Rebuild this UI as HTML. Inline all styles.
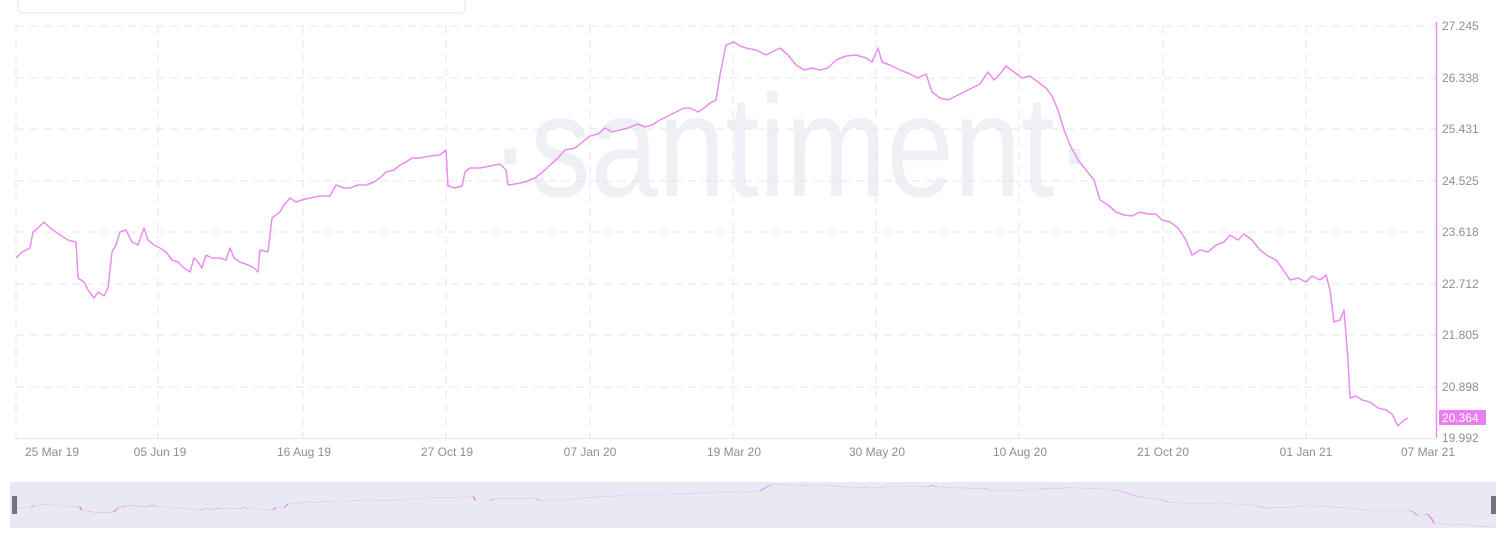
<!DOCTYPE html>
<html><head><meta charset="utf-8"><style>
html,body{margin:0;padding:0;background:#fff;width:1504px;height:542px;overflow:hidden;font-family:"Liberation Sans",sans-serif;}
</style></head><body>
<svg width="1504" height="542" viewBox="0 0 1504 542" xmlns="http://www.w3.org/2000/svg" font-family="Liberation Sans, sans-serif">
<rect x="18" y="-6" width="447" height="19" rx="4" fill="#fff" stroke="#e3e5ea"/>
<text x="490" y="196" font-size="145" fill="#eef0f6" textLength="605" lengthAdjust="spacingAndGlyphs">·santiment·</text>
<g stroke="#e4e6ea" stroke-dasharray="8,6" stroke-width="1">
<line x1="16" y1="26" x2="1436" y2="26"/><line x1="16" y1="78" x2="1436" y2="78"/><line x1="16" y1="129" x2="1436" y2="129"/><line x1="16" y1="181" x2="1436" y2="181"/><line x1="16" y1="232" x2="1436" y2="232"/><line x1="16" y1="284" x2="1436" y2="284"/><line x1="16" y1="335" x2="1436" y2="335"/><line x1="16" y1="387" x2="1436" y2="387"/>
<line x1="16" y1="26" x2="16" y2="438"/><line x1="158" y1="26" x2="158" y2="438"/><line x1="303" y1="26" x2="303" y2="438"/><line x1="446" y1="26" x2="446" y2="438"/><line x1="590" y1="26" x2="590" y2="438"/><line x1="733" y1="26" x2="733" y2="438"/><line x1="876" y1="26" x2="876" y2="438"/><line x1="1019" y1="26" x2="1019" y2="438"/><line x1="1163" y1="26" x2="1163" y2="438"/><line x1="1306" y1="26" x2="1306" y2="438"/>
</g>
<line x1="16" y1="438.5" x2="1436" y2="438.5" stroke="#e4e6ea"/>
<line x1="1436.5" y1="22" x2="1436.5" y2="438" stroke="#e98df0" stroke-width="1.5"/>
<g font-size="12" fill="#8a8f9c">
<text x="1442" y="30">27.245</text><text x="1442" y="82">26.338</text><text x="1442" y="133">25.431</text><text x="1442" y="185">24.525</text><text x="1442" y="236">23.618</text><text x="1442" y="288">22.712</text><text x="1442" y="339">21.805</text><text x="1442" y="391">20.898</text><text x="1442" y="442">19.992</text>
</g>
<rect x="1439" y="410" width="47" height="15" fill="#ea7ef0"/>
<text x="1442" y="422" font-size="12" fill="#fff">20.364</text>
<g font-size="12" fill="#8a8f9c" text-anchor="middle">
<text x="52" y="456">25 Mar 19</text><text x="160" y="456">05 Jun 19</text><text x="304" y="456">16 Aug 19</text><text x="447" y="456">27 Oct 19</text><text x="590" y="456">07 Jan 20</text><text x="734" y="456">19 Mar 20</text><text x="877" y="456">30 May 20</text><text x="1020" y="456">10 Aug 20</text><text x="1163" y="456">21 Oct 20</text><text x="1306" y="456">01 Jan 21</text><text x="1428" y="456">07 Mar 21</text>
</g>
<defs><path id="s" d="M16,258 L22,252 L30,248 L33,232 L38,228 L44,222 L50,228 L60,235 L68,240 L76,242 L78,278 L84,282 L88,290 L94,298 L98,292 L104,296 L108,288 L112,252 L116,245 L120,232 L126,230 L132,242 L138,245 L144,228 L148,240 L154,245 L160,248 L166,252 L172,260 L178,262 L184,268 L190,272 L194,258 L198,262 L202,268 L206,255 L212,258 L220,258 L226,260 L230,248 L234,258 L240,262 L248,265 L254,268 L258,272 L260,250 L268,252 L272,218 L280,212 L284,205 L290,198 L296,202 L302,200 L310,198 L320,196 L330,196 L336,185 L344,188 L350,188 L358,185 L366,185 L374,182 L380,178 L386,172 L394,170 L400,165 L406,162 L412,158 L420,158 L430,156 L440,155 L446,150 L448,186 L455,188 L462,186 L465,172 L470,168 L480,168 L490,166 L500,164 L506,170 L508,185 L515,184 L525,182 L535,178 L545,170 L550,165 L558,158 L565,150 L575,148 L585,140 L590,136 L598,134 L605,128 L612,132 L620,130 L628,128 L638,124 L645,127 L652,125 L660,120 L668,116 L676,112 L684,108 L690,108 L698,112 L704,108 L710,103 L716,100 L720,75 L726,45 L734,42 L740,46 L746,48 L756,50 L766,55 L772,52 L780,48 L788,55 L796,65 L804,70 L812,68 L820,70 L828,68 L836,60 L846,56 L856,55 L866,58 L872,62 L878,48 L882,62 L890,65 L900,70 L910,74 L918,78 L926,74 L932,92 L940,98 L948,100 L956,96 L964,92 L972,88 L980,84 L988,72 L994,80 L1000,74 L1006,66 L1014,72 L1022,78 L1030,76 L1038,82 L1046,88 L1052,96 L1058,110 L1064,130 L1070,145 L1078,160 L1086,170 L1094,180 L1100,200 L1108,205 L1116,212 L1124,215 L1132,216 L1140,212 L1148,214 L1156,214 L1162,220 L1170,222 L1178,228 L1186,240 L1192,255 L1200,250 L1208,252 L1216,245 L1224,242 L1230,235 L1238,240 L1244,234 L1252,240 L1260,250 L1268,256 L1276,260 L1282,268 L1290,280 L1298,278 L1306,282 L1312,276 L1320,280 L1326,275 L1330,290 L1334,322 L1340,320 L1344,310 L1348,360 L1350,398 L1356,396 L1362,400 L1370,402 L1378,408 L1386,410 L1392,414 L1398,426 L1404,420 L1408,418"/></defs>
<use href="#s" fill="none" stroke="#e98df0" stroke-width="1.5" stroke-linejoin="round"/>
<rect x="10" y="482" width="1486" height="46" fill="#e8e9f3"/>
<use href="#s" fill="none" stroke="#e98df0" stroke-width="1.8" transform="translate(-1.01,480) scale(1.0632,0.11)" vector-effect="non-scaling-stroke"/>
<rect x="12" y="496" width="5" height="18" fill="#6f7385"/>
<rect x="1491" y="496" width="5" height="18" fill="#6f7385"/>
</svg>
</body></html>
